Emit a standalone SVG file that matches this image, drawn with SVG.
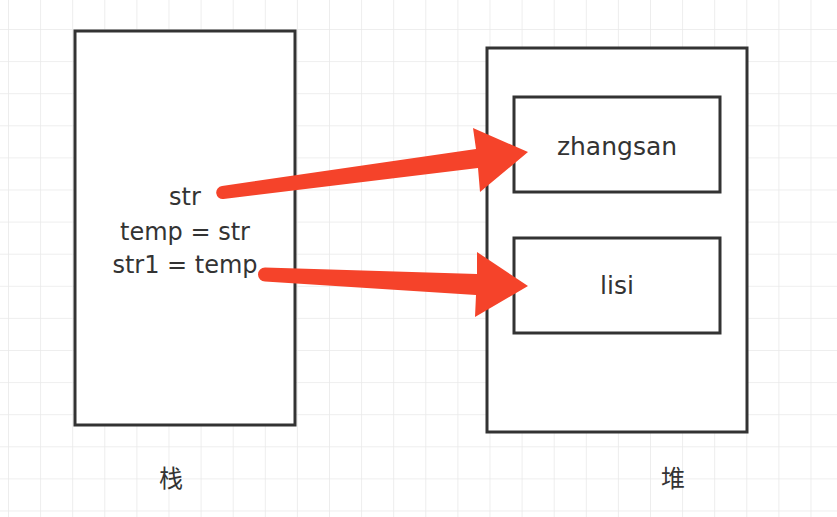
<svg xmlns="http://www.w3.org/2000/svg" width="837" height="517" viewBox="0 0 837 517">
<defs>
<pattern id="grid" x="8" y="29" width="32.1" height="32.1" patternUnits="userSpaceOnUse">
<path d="M0,0 H32.1 M0,0 V32.1" fill="none" stroke="#e9e9e9" stroke-width="1.6"/>
</pattern>
<style>
.box{fill:#ffffff;stroke:#333333;stroke-width:3}
.t{font-family:"DejaVu Sans","Noto Sans CJK SC",sans-serif;font-size:24px;fill:#333333;text-anchor:middle}
.cjk{font-family:"Noto Sans CJK SC",sans-serif;font-size:24px;fill:#333333;text-anchor:middle}
.arrow{fill:#f5432a}
</style>
</defs>
<rect width="837" height="517" fill="#ffffff"/>
<rect width="837" height="517" fill="url(#grid)"/>
<g id="stack">
<rect class="box" x="75" y="31" width="220" height="394"/>
<text class="t" x="185" y="205">str</text>
<text class="t" x="185" y="240">temp = str</text>
<text class="t" x="185" y="273">str1 = temp</text>
</g>
<g id="heap">
<rect class="box" x="487" y="48" width="260" height="384"/>
</g>
<g id="zhangsan">
<rect class="box" x="514" y="97" width="206" height="95"/>
<text class="t" x="617" y="155" style="font-size:25px">zhangsan</text>
</g>
<g id="lisi">
<rect class="box" x="514" y="238" width="206" height="95"/>
<text class="t" x="617" y="294" style="font-size:25px">lisi</text>
</g>
<text id="label-stack" class="cjk" x="171" y="487">栈</text>
<text id="label-heap" class="cjk" x="673" y="487">堆</text>
<g id="connectors">
<path class="arrow" d="M222,186 L476,149 L473,128 L528,152 L480,192 L478,168 L223.5,199 A6.5,6.5 0 0 1 222,186 Z"/>
<path class="arrow" d="M265,267.5 L477,274 L477,252 L528,286 L475,317 L476,295 L265,281.5 A7,7 0 0 1 265,267.5 Z"/>
</g>
</svg>
